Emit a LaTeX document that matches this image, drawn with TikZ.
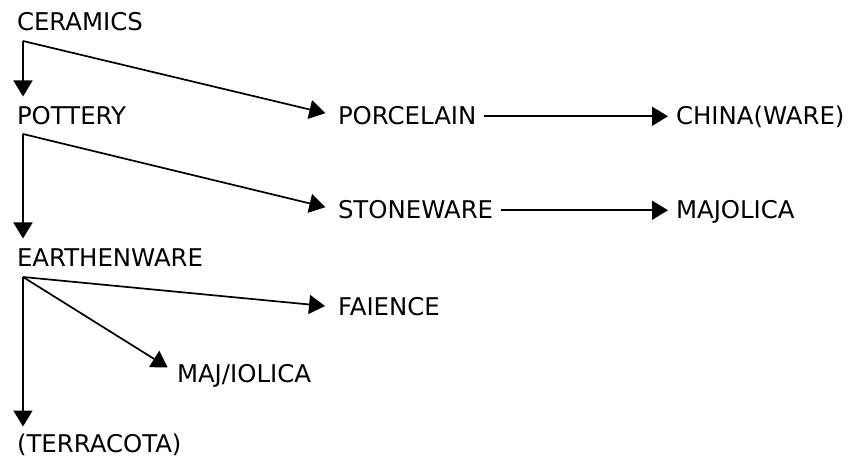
\documentclass[tikz,border=0pt]{standalone}
\usepackage{fontspec}
\setmainfont{DejaVu Sans}
\usetikzlibrary{arrows.meta, positioning, calc}
\tikzset{
    word/.style={inner sep=0pt, outer sep=0pt, anchor=base west,
      text height=17.5pt, text depth=0pt, font=\fontsize{24.4}{29}\selectfont},
    link/.style={-{Triangle[length=16pt, width=19pt]}, line width=1.7pt},
}

\begin{document}
\begin{tikzpicture}[x=1pt, y=-1pt]
    \useasboundingbox (0,0) rectangle (849,457);

    \node[word] (ceramics) at (17,31) {CERAMICS};
    \node[word] (pottery) at (17,125) {POTTERY};
    \node[word] (porcelain) at (338,125) {PORCELAIN};
    \node[word] (china) at (676,125) {CHINA(WARE)};
    \node[word] (stoneware) at (338,219) {STONEWARE};
    \node[word] (majolica) at (676,219) {MAJOLICA};
    \node[word] (earthenware) at (17,266) {EARTHENWARE};
    \node[word] (faience) at (338,316) {FAIENCE};
    \node[word] (majiolica) at (177,382) {MAJ/IOLICA};
    \node[word] (terracota) at (17,452) {(TERRACOTA)};

    % branch points under each word
    \coordinate (c0) at ($(ceramics.base west)+(6,10)$);
    \coordinate (c1) at ($(pottery.base west)+(6,9)$);
    \coordinate (c2) at ($(earthenware.base west)+(6,11)$);

    \draw[link, shorten >=11pt] (c0) -- (c0 |- pottery.north);
    \draw[link, shorten >=13pt] (c0) -- (porcelain.west);
    \draw[link, shorten <=8pt, shorten >=8pt] (porcelain.east) -- (china.west);

    \draw[link, shorten >=10pt] (c1) -- (c1 |- earthenware.north);
    \draw[link, shorten >=13pt] (c1) -- (stoneware.west);
    \draw[link, shorten <=8pt, shorten >=8pt] (stoneware.east) -- (majolica.west);

    \draw[link, shorten >=13pt] (c2) -- (faience.west);
    \draw[link, shorten >=11pt] (c2) -- (majiolica.west);
    \draw[link, shorten >=8pt] (c2) -- (c2 |- terracota.north);
\end{tikzpicture}
\end{document}
